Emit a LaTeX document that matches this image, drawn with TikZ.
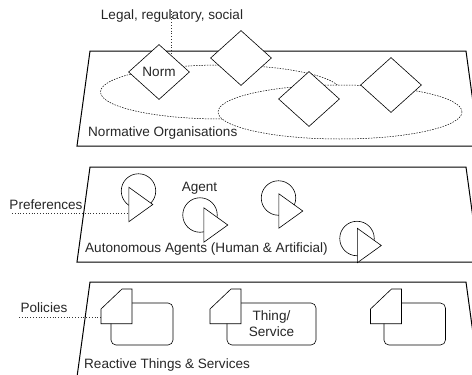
\documentclass[tikz,border=0pt]{standalone}
\usepackage{fontspec}
\setmainfont{Liberation Sans}
\usetikzlibrary{shapes.geometric}
\tikzset{
  plane/.style={draw, line width=1pt, line join=miter},
  link/.style={dotted, line width=0.8pt, black!80},
  org/.style={draw, dash pattern=on 1.5pt off 1.2pt, line width=0.5pt, fill=white, ellipse, inner sep=0pt, minimum width=241pt, minimum height=54pt},
  norm/.style={draw, fill=white, diamond, inner sep=0pt, minimum width=61pt, minimum height=55pt, line width=0.6pt},
  pref/.style={draw, fill=white, circle, inner sep=0pt, minimum size=34.5pt, line width=0.6pt},
  agent/.style={draw, fill=white, isosceles triangle, isosceles triangle stretches, shape border rotate=0, inner sep=0pt, minimum height=24pt, minimum width=34.5pt, anchor=lower side, line width=0.6pt},
  thing/.style={draw, fill=white, rounded corners=5pt, inner sep=0pt, minimum height=42pt, line width=0.6pt, align=center},
  policy/.style={draw, fill=white, line width=0.6pt},
  lab/.style={inner sep=0pt, text=black!85, font=\fontsize{13.55}{16}\selectfont, align=center},
}
\begin{document}
\begin{tikzpicture}[x=1pt, y=-1pt]
  \useasboundingbox (0,0) rectangle (472,375);

  % The three slanted planes
  \foreach \top/\bot in {51/146, 167/262, 282/377} {
    \draw [plane] (90,\top) -- (466,\top) -- (479,\bot) -- (77,\bot) -- cycle;
  }

  % Free ends of the dotted lines
  \coordinate (legalend) at (171,11);
  \coordinate (legalfoot) at (171,56);
  \coordinate (prefend) at (12,213);
  \coordinate (policyend) at (19,317);
  \coordinate (policyfoot) at (101,317);

  % Normative layer
  \node [lab] (legal) at (172,16) {Legal, regulatory, social};
  \draw [link] (legalend) -- (legalfoot);
  \node [org] (org1) at (221,92) {};
  \node [org, minimum width=244pt] (org2) at (340,112) {};
  \node [norm, lab] (norm1) at (159,72) {Norm};
  \foreach \i/\x/\y in {2/241/58, 3/309/99, 4/391/85} {
    \node [norm] (norm\i) at (\x,\y) {};
  }
  \node [lab, anchor=west] (normlayer) at (88,133) {Normative Organisations};

  % Agents layer
  \node [lab] (preflab) at (46,205) {Preferences};
  \node [lab] (agentlab) at (199.5,188) {Agent};
  \node [lab, anchor=west] (agentlayer) at (85,249) {Autonomous Agents (Human \& Artificial)};
  \foreach \i/\cx/\cy/\tx/\ty in {
    1/138.5/191/128.5/204.5,
    2/200/215/203.5/225,
    3/278.5/198/278.5/211,
    4/357/238.5/357/245.5} {
    \node [pref] (pref\i) at (\cx,\cy) {};
    \node [agent] (agent\i) at (\tx,\ty) {};
  }
  \draw [link] (prefend) -- (prefend -| agent1.lower side);

  % Things layer
  \node [lab] (policylab) at (44,308) {Policies};
  \node [thing, minimum width=62pt] (thing1) at (142,324) {};
  \node [thing, lab, draw, minimum width=89pt] (thing2) at (271.5,324) {Thing/\\Service};
  \node [thing, minimum width=61.5pt] (thing3) at (414.7,324) {};
  \foreach \x in {101, 210, 370.5} {
    \draw [policy] (\x,309) -- (\x+21,289) -- (\x+31,289) -- (\x+31,323.7) -- (\x,323.7) -- cycle;
  }
  \draw [link] (policyend) -- (policyfoot);
  \node [lab, anchor=west] (thinglayer) at (84,365) {Reactive Things \& Services};
\end{tikzpicture}
\end{document}
